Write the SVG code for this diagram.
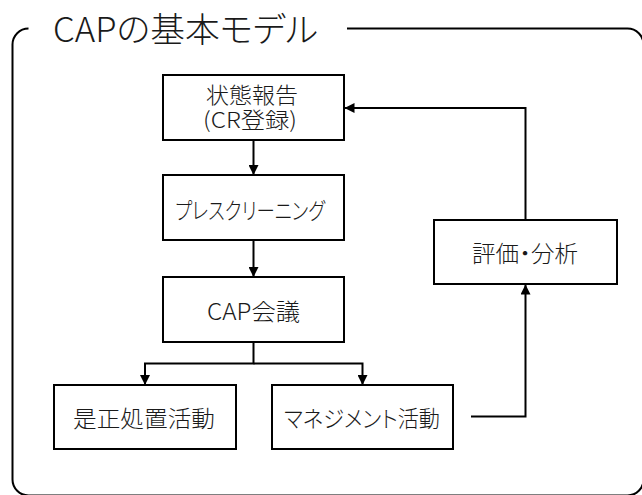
<svg xmlns="http://www.w3.org/2000/svg" width="642" height="495" viewBox="0 0 642 495">
<style>
.t{font-family:"Noto Sans CJK JP","Noto Sans",sans-serif;font-weight:300;fill:#1a1a1a;font-feature-settings:"palt";}
.b{fill:#fff;stroke:#000;stroke-width:2;}
.c{fill:none;stroke:#000;stroke-width:2;}
</style>
<defs>
<marker id="ah" markerUnits="userSpaceOnUse" markerWidth="10" markerHeight="10" refX="10" refY="5" orient="auto">
<path d="M0,0 L10,5 L0,10 z" fill="#000"/>
</marker>
</defs>
<rect width="642" height="495" fill="#fff"/>
<g id="frame">
<path class="c" d="M347,28.5 H627.5 A16,16 0 0 1 643.5,44.5 V479.5 A16,16 0 0 1 627.5,495.5 H28.5 A16,16 0 0 1 12.5,479.5 V44.5 A16,16 0 0 1 28.5,28.5"/>
<text class="t" x="53" y="42" font-size="34" textLength="265" lengthAdjust="spacingAndGlyphs">CAPの基本モデル</text>
</g>
<g id="connectors">
<path class="c" d="M253.5,141 V175" marker-end="url(#ah)"/>
<path class="c" d="M253.5,241 V277" marker-end="url(#ah)"/>
<path class="c" d="M253.5,342 V363.5 H145 V385" marker-end="url(#ah)"/>
<path class="c" d="M253.5,363.5 H362.5 V385" marker-end="url(#ah)"/>
<path class="c" d="M471,416.5 H525.5 V284.5" marker-end="url(#ah)"/>
<path class="c" d="M525.5,220 V108 H344.5" marker-end="url(#ah)"/>
</g>
<g id="n1">
<rect class="b" x="163" y="75" width="181" height="65"/>
<text class="t" x="252" y="103" font-size="22" text-anchor="middle" textLength="92" lengthAdjust="spacingAndGlyphs">状態報告</text>
<text class="t" x="250" y="128" font-size="22" text-anchor="middle" textLength="94" lengthAdjust="spacingAndGlyphs">(CR登録)</text>
</g>
<g id="n2">
<rect class="b" x="163" y="175" width="181" height="65"/>
<text class="t" x="250" y="218.5" font-size="23" text-anchor="middle" textLength="150" lengthAdjust="spacingAndGlyphs">プレスクリーニング</text>
</g>
<g id="n3">
<rect class="b" x="163" y="277" width="181" height="65"/>
<text class="t" x="253.5" y="319.5" font-size="23" text-anchor="middle" textLength="93" lengthAdjust="spacingAndGlyphs">CAP会議</text>
</g>
<g id="n4">
<rect class="b" x="54" y="385" width="182" height="64"/>
<text class="t" x="144" y="426.5" font-size="23" text-anchor="middle" textLength="142" lengthAdjust="spacingAndGlyphs">是正処置活動</text>
</g>
<g id="n5">
<rect class="b" x="272" y="385" width="181" height="64"/>
<text class="t" x="362" y="426.5" font-size="23" text-anchor="middle" textLength="156" lengthAdjust="spacingAndGlyphs">マネジメント活動</text>
</g>
<g id="n6">
<rect class="b" x="434" y="220" width="183" height="64"/>
<text class="t" x="525" y="261.5" font-size="23" text-anchor="middle" textLength="106" lengthAdjust="spacingAndGlyphs">評価・分析</text>
</g>
</svg>
